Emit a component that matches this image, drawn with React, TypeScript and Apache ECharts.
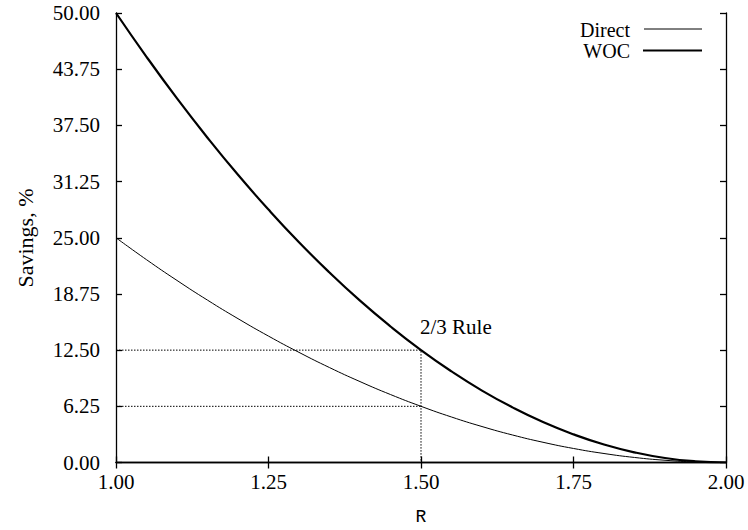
import React, { useEffect, useRef } from "react";
import * as echarts from "echarts";

const rValues = [1.0, 1.05, 1.1, 1.15, 1.2, 1.25, 1.3, 1.35, 1.4, 1.45, 1.5, 1.55, 1.6, 1.65, 1.7, 1.75, 1.8, 1.85, 1.9, 1.95, 2.0];
const directValues = [25, 22.56, 20.25, 18.06, 16, 14.06, 12.25, 10.56, 9, 7.56, 6.25, 5.06, 4, 3.06, 2.25, 1.56, 1, 0.56, 0.25, 0.06, 0];
const wocValues = [50, 45.13, 40.5, 36.13, 32, 28.13, 24.5, 21.13, 18, 15.13, 12.5, 10.13, 8, 6.13, 4.5, 3.13, 2, 1.13, 0.5, 0.13, 0];
const ruleGuideUpper = [[1.0, 12.5], [1.5, 12.5], [1.5, 0]];
const ruleGuideLower = [[1.0, 6.25], [1.5, 6.25]];
const rulePoint = [1.5, 12.5];
const ruleLabel = "2/3 Rule";
const seriesNames = ["Direct", "WOC"];

const SERIF = '"Liberation Serif", "Times New Roman", serif';

export default function App() {
  const ref = useRef<HTMLDivElement>(null);
  useEffect(() => {
    if (!ref.current) return;
    const chart = echarts.init(ref.current, null, { renderer: "svg" });
    const axisCommon = {
      axisLine: { show: true, lineStyle: { color: "#000", width: 1.3 } },
      axisTick: { show: true, inside: true, length: 6, lineStyle: { color: "#000", width: 1.3 } },
      splitLine: { show: false },
    };
    chart.setOption({
      animation: false,
      backgroundColor: "#fff",
      grid: { left: 116, top: 13, width: 610, height: 449.5, outerBoundsMode: "none" },
      xAxis: [
        {
          type: "value",
          min: 1,
          max: 2,
          interval: 0.25,
          position: "bottom",
          ...axisCommon,
          axisLabel: {
            margin: 9,
            color: "#000",
            fontFamily: SERIF,
            fontSize: 21,
            formatter: (v: number) => v.toFixed(2),
          },
        },
        {
          type: "value",
          min: 1,
          max: 2,
          interval: 0.25,
          position: "top",
          ...axisCommon,
          axisLabel: { show: false },
        },
      ],
      yAxis: [
        {
          type: "value",
          min: 0,
          max: 50,
          interval: 6.25,
          position: "left",
          ...axisCommon,
          axisLabel: {
            margin: 16,
            color: "#000",
            fontFamily: SERIF,
            fontSize: 21,
            formatter: (v: number) => v.toFixed(2),
          },
        },
        {
          type: "value",
          min: 0,
          max: 50,
          interval: 6.25,
          position: "right",
          ...axisCommon,
          axisLabel: { show: false },
        },
      ],
      series: [
        {
          name: seriesNames[0],
          type: "line",
          smooth: true,
          showSymbol: false,
          data: rValues.map((r, i) => [r, directValues[i]]),
          lineStyle: { color: "#000", width: 1 },
        },
        {
          name: seriesNames[1],
          type: "line",
          smooth: true,
          showSymbol: false,
          data: rValues.map((r, i) => [r, wocValues[i]]),
          lineStyle: { color: "#000", width: 2.2 },
        },
        {
          name: "guideUpper",
          type: "line",
          showSymbol: false,
          data: ruleGuideUpper,
          lineStyle: { color: "#000", width: 1, type: [1.5, 1.5] },
          z: 1,
        },
        {
          name: "guideLower",
          type: "line",
          showSymbol: false,
          data: ruleGuideLower,
          lineStyle: { color: "#000", width: 1, type: [1.5, 1.5] },
          z: 1,
        },
      ],
      graphic: [
        {
          type: "text",
          x: 25,
          y: 238,
          rotation: Math.PI / 2,
          style: {
            text: "Savings, %",
            fill: "#000",
            font: `22px ${SERIF}`,
            align: "center",
            verticalAlign: "middle",
          },
        },
        {
          type: "text",
          x: 421,
          y: 517,
          style: {
            text: "R",
            fill: "#000",
            font: '18px "Liberation Mono", monospace',
            align: "center",
            verticalAlign: "middle",
          },
        },
        {
          type: "text",
          x: 630,
          y: 29.5,
          style: { text: seriesNames[0], fill: "#000", font: `20px ${SERIF}`, align: "right", verticalAlign: "middle" },
        },
        {
          type: "line",
          shape: { x1: 644, y1: 29, x2: 702, y2: 29 },
          style: { stroke: "#000", lineWidth: 1 },
        },
        {
          type: "text",
          x: 630,
          y: 50.5,
          style: { text: seriesNames[1], fill: "#000", font: `20px ${SERIF}`, align: "right", verticalAlign: "middle" },
        },
        {
          type: "line",
          shape: { x1: 643, y1: 50.5, x2: 702, y2: 50.5 },
          style: { stroke: "#000", lineWidth: 2.2 },
        },
      ],
    });
    const p = chart.convertToPixel({ gridIndex: 0 }, rulePoint) as number[];
    chart.setOption({
      graphic: [
        {
          id: "ruleText",
          type: "text",
          x: p[0] - 1,
          y: p[1] - 23,
          style: { text: ruleLabel, fill: "#000", font: `21px ${SERIF}`, align: "left", verticalAlign: "middle" },
        },
      ],
    });
    return () => chart.dispose();
  }, []);
  return <div ref={ref} style={{ width: 748, height: 530, position: "absolute", left: 0, top: 0 }} />;
}
